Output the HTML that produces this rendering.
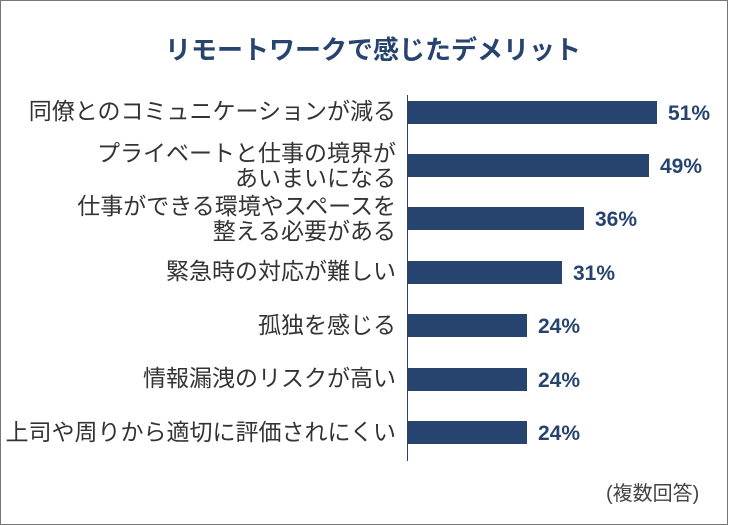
<!DOCTYPE html>
<html><head><meta charset="utf-8"><style>
body{margin:0;width:730px;height:525px;background:#fff;overflow:hidden}
.f{position:absolute;left:0;top:0;width:726px;height:523px;border:1px solid #777;box-sizing:content-box}
.t{position:absolute;left:0;width:746px;top:30px;text-align:center;font:bold 26px "Liberation Sans","Noto Sans CJK JP",sans-serif;color:#27446e}
.l{position:absolute;right:334px;text-align:right;font:23px/25px "Liberation Sans","Noto Sans CJK JP",sans-serif;color:#333;white-space:nowrap}
.b{position:absolute;left:408px;height:23px;background:#27446e}
.v{position:absolute;font:bold 21px/23px "Liberation Sans","Noto Sans CJK JP",sans-serif;color:#27446e}
.ax{position:absolute;left:407px;top:95px;width:1px;height:366px;background:#27446e}
.n{position:absolute;left:606px;top:477px;font:20px "Liberation Sans","Noto Sans CJK JP",sans-serif;color:#444}
</style></head><body>
<div class="f"></div>
<div class="t">リモートワークで感じたデメリット</div>
<div class="ax"></div>
<div class="l" style="top:99px">同僚とのコミュニケーションが減る</div>
<div class="l" style="top:141px">プライベートと仕事の境界が<br>あいまいになる</div>
<div class="l" style="top:194px">仕事ができる環境やスペースを<br>整える必要がある</div>
<div class="l" style="top:259px">緊急時の対応が難しい</div>
<div class="l" style="top:313px">孤独を感じる</div>
<div class="l" style="top:366px">情報漏洩のリスクが高い</div>
<div class="l" style="top:420px">上司や周りから適切に評価されにくい</div>
<div class="b" style="top:101px;width:249px"></div><div class="v" style="top:102px;left:668px">51%</div>
<div class="b" style="top:154px;width:241px"></div><div class="v" style="top:155px;left:660px">49%</div>
<div class="b" style="top:207px;width:176px"></div><div class="v" style="top:208px;left:595px">36%</div>
<div class="b" style="top:261px;width:154px"></div><div class="v" style="top:262px;left:573px">31%</div>
<div class="b" style="top:314px;width:119px"></div><div class="v" style="top:315px;left:538px">24%</div>
<div class="b" style="top:368px;width:119px"></div><div class="v" style="top:369px;left:538px">24%</div>
<div class="b" style="top:421px;width:119px"></div><div class="v" style="top:422px;left:538px">24%</div>
<div class="n">(複数回答)</div>
</body></html>
